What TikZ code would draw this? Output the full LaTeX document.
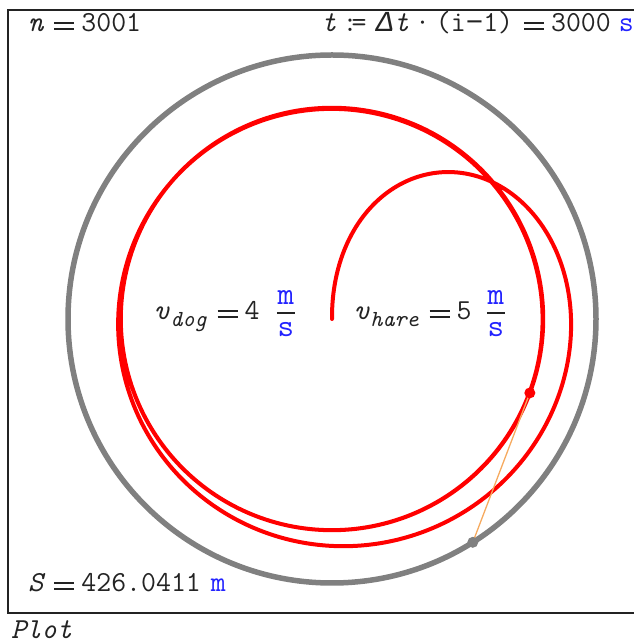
\documentclass[tikz,border=0pt]{standalone}
\usepackage{fontspec}
\setmainfont{Liberation Serif}
\newfontfamily\symmono{Liberation Mono}
\usetikzlibrary{calc,positioning}
\definecolor{unitblue}{RGB}{35,35,255}
\definecolor{circlegray}{RGB}{128,128,128}
\definecolor{sightorange}{RGB}{246,170,95}
\definecolor{inkgray}{RGB}{35,35,35}
\newcommand{\eqsign}{\hspace{11pt}\rule[1.5pt]{20pt}{2.8pt}\llap{\rule[7.5pt]{20pt}{2.8pt}}\hspace{7pt}}
\newcommand{\unitof}[1]{\textcolor{unitblue}{#1}}
\newcommand{\subtxt}[1]{\raisebox{-7pt}{\fontsize{23}{23}\selectfont\itshape #1}}
\tikzset{
  lbl/.style       = {font=\ttfamily\fontsize{29}{32}\selectfont, text=inkgray,
                      inner sep=0pt, anchor=base west},
  fracunit/.style  = {font=\ttfamily\fontsize{32}{34}\selectfont, text=unitblue,
                      inner sep=0pt, anchor=base},
  fracbar/.style   = {draw=inkgray, line width=2pt},
  plotframe/.style = {draw=inkgray, line width=1.8pt},
  harepath/.style  = {draw=circlegray, line width=5.5pt},
  dogpath/.style   = {draw=red, line width=4pt, line join=round, line cap=round},
  sight/.style     = {draw=sightorange, line width=1.3pt},
  dogdot/.style    = {circle, fill=red, inner sep=0pt, minimum size=11pt},
  haredot/.style   = {circle, fill=circlegray, inner sep=0pt, minimum size=11pt},
}
\begin{document}
\begin{tikzpicture}[x=1pt, y=1pt]
\useasboundingbox (0,0) rectangle (634,643);
\draw[plotframe] (8,30) rectangle (645,633);
\coordinate (O) at (332,324);
\draw[harepath] (O) circle (264);
% pursuit: hare on the circle, dog from the centre, dt = 2 s
\def\dogx{0}\def\dogy{0}\def\dogtrack{(0,0)}
\foreach \i in {1,...,1500}{%
  \pgfmathsetmacro\hang{90-0.8185128*(\i-1)}%
  \pgfmathsetmacro\ex{264*cos(\hang)-\dogx}%
  \pgfmathsetmacro\ey{264*sin(\hang)-\dogy}%
  \pgfmathsetmacro\ed{veclen(\ex,\ey)}%
  \pgfmathsetmacro\nx{\dogx+3.01714*\ex/\ed}%
  \pgfmathsetmacro\ny{\dogy+3.01714*\ey/\ed}%
  \xdef\dogx{\nx}\xdef\dogy{\ny}%
  \xdef\dogtrack{\dogtrack -- (\nx,\ny)}%
}
\begin{scope}[shift={(O)}]
  \edef\drawtrack{\noexpand\draw[dogpath] \dogtrack;}\drawtrack
  \pgfmathsetmacro\hang{90-0.8185128*1500}
  \coordinate (dog) at (\dogx,\dogy);
  \coordinate (hare) at (\hang:264);
\end{scope}
\draw[sight] (dog) -- (hare);
\node[dogdot] (dogpt) at (dog) {};
\node[haredot] (harept) at (hare) {};
% labels
\node[lbl] (nlbl) at (28,611) {{\itshape n}\eqsign 3001};
\node[lbl, anchor=base east] (tlbl) at (634,611)
  {{\itshape t}\hspace{6pt}:\kern-6pt=\hspace{10pt}{\symmono\itshape Δ}{\itshape t}\hspace{6pt}·\hspace{6pt}(i{\symmono −}1)\eqsign 3000\hspace{8pt}\unitof{s}};
\node[lbl] (slbl) at (28,51) {{\itshape S}\eqsign 426.0411\hspace{10pt}\unitof{m}};
\node[lbl] (plotlbl) at (11,5) {\itshape Plot};
\node[lbl] (vdog) at (154,323) {{\itshape v}\hspace{1pt}\subtxt{dog}\eqsign 4};
\node[fracunit] (dogm) at ($(vdog.base east)+(26,15)$) {m};
\node[fracunit] (dogs) at ($(vdog.base east)+(26,-17)$) {s};
\draw[fracbar] ($(vdog.base east)+(17,7)$) -- ($(vdog.base east)+(35,7)$);
\node[lbl] (vhare) at (354,323) {{\itshape v}\hspace{1pt}\subtxt{hare}\eqsign 5};
\node[fracunit] (harem) at ($(vhare.base east)+(24,15)$) {m};
\node[fracunit] (hares) at ($(vhare.base east)+(24,-17)$) {s};
\draw[fracbar] ($(vhare.base east)+(15,7)$) -- ($(vhare.base east)+(33,7)$);
\end{tikzpicture}
\end{document}
